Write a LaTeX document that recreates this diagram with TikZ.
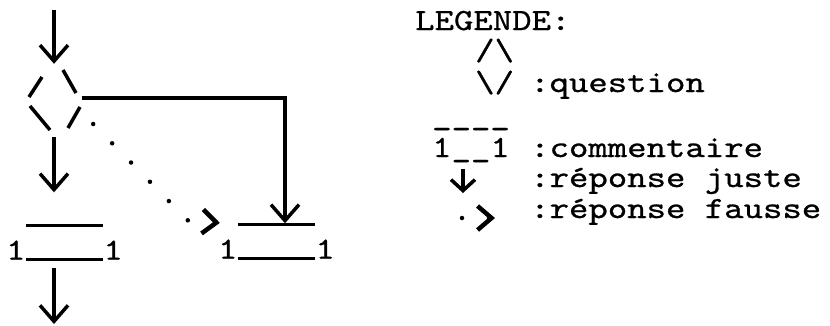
\documentclass[tikz,border=0pt]{standalone}
\usepackage{fontspec}
\setmonofont{lmmono10-regular.otf}[FakeStretch=1.2,FakeBold=0.8]
\usepackage{tikz}
\usetikzlibrary{arrows.meta,positioning}
\tikzset{typed/.style={font=\ttfamily\fontsize{30.8}{37}\selectfont,inner sep=0pt,anchor=base west}}
\tikzset{one/.style={typed,anchor=base}}
\tikzset{juste/.style={line width=3.5pt,-{Straight Barb[length=16pt,width=28pt]}}}
\tikzset{fausse/.style={line width=4.5pt,line cap=round,dash pattern=on 0pt off 27pt,-{Straight Barb[length=14pt,width=24pt]}}}
\tikzset{bar/.style={line width=2.5pt}}
\tikzset{slash/.style={line width=3.5pt}}
\tikzset{question/.style={minimum width=56pt,minimum height=68pt,inner sep=0pt}}
\tikzset{comment/.style={minimum width=77pt,minimum height=34pt,inner sep=0pt}}

\begin{document}
\begin{tikzpicture}[x=1pt,y=-1pt]
\useasboundingbox (0,0) rectangle (830,325);
\coordinate (in) at (54,10);
\node[question] (q) at (54,98) {};
\draw[slash] ([shift={(-25,-1)}]q.center) -- +(13,-20);
\draw[slash] ([shift={(9,-28)}]q.center) -- +(13,23);
\draw[slash] ([shift={(-24,8)}]q.center) -- +(20,24);
\draw[slash] ([shift={(14,30)}]q.center) -- +(12,-21);
\node[comment] (c1) at (64.5,242.5) {};
\draw[bar] (c1.north west) -- (c1.north east);
\draw[bar] (c1.south west) -- (c1.south east);
\node[one] (c1l) at ([xshift=-10pt]c1.south west) {1};
\node[one] (c1r) at ([xshift=10pt]c1.south east) {1};
\node[comment] (c2) at (276.5,241.5) {};
\draw[bar] (c2.north west) -- (c2.north east);
\draw[bar] (c2.south west) -- (c2.south east);
\node[one] (c2l) at ([xshift=-10pt]c2.south west) {1};
\node[one] (c2r) at ([xshift=10pt]c2.south east) {1};
\coordinate (out) at (54,324);
\draw[juste] (in) -- (q.north);
\draw[juste,shorten <=5pt,shorten >=33pt] (q.south) -- (q.south |- c1.north);
\draw[juste] (out |- c1.south) ++(0,8) -- (out);
\draw[juste] (q.east) -| ([xshift=8.5pt,yshift=1pt]c2.north);
\draw[fausse,shorten >=18pt] ([shift={(11,26)}]q.east) -- ([shift={(-50,-4)}]c2.north west) -- (c2.north west);
\node[typed] (leg) at (415,30) {LEGENDE:};
\node[typed] (qs1) at (475,60) {/\textbackslash};
\node[typed] (qs2) at (475,92) {\textbackslash/};
\node[typed] (qtxt) at (530,92) {:question};
\node[typed] (cs0) at (432,125) {\_\_\_\_};
\node[typed] (cs) at (432,157) {1\_\_1};
\node[typed] (ctxt) at (530,157) {:commentaire};
\node[typed] (jtxt) at (530,187) {:réponse juste};
\node[typed] (ftxt) at (530,218) {:réponse fausse};
\coordinate (js) at (463,169);
\coordinate (je) at (463,193);
\draw[juste,-{Straight Barb[length=11pt,width=24pt]}] (js) -- (je);
\coordinate (fs) at (462,218);
\coordinate (fe) at (495,218);
\draw[fausse] (fs) -- (fe);
\end{tikzpicture}
\end{document}
